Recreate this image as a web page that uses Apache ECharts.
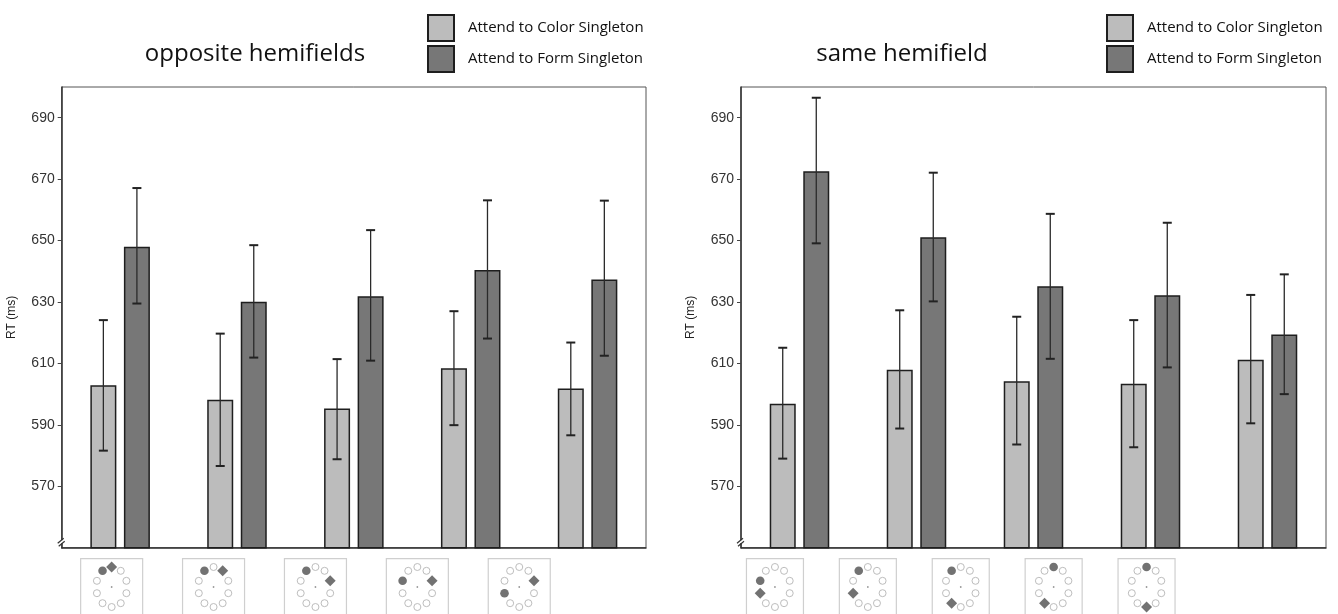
<!DOCTYPE html>
<html><head><meta charset="utf-8">
<script src="https://cdn.jsdelivr.net/npm/echarts@6/dist/echarts.min.js"></script>
<style>html,body{margin:0;padding:0;background:#fff}#c{width:1338px;height:614px}</style>
</head><body><div id="c"></div>
<script>
// ---------- data ----------
const categories = ['1', '2', '3', '4', '5'];
const legendNames = ['Attend to Color Singleton', 'Attend to Form Singleton'];
const panelTitles = ['opposite hemifields', 'same hemifield'];
const yAxisName = 'RT (ms)';
const yTicks = [570, 590, 610, 630, 650, 670, 690];
const yMin = 550;
const yMax = 700;

// opposite hemifields
const oppColorMean = [602.9, 598.2, 595.3, 608.4, 601.8];
const oppColorLow  = [581.6, 576.6, 578.8, 589.9, 586.6];
const oppColorHigh = [624.1, 619.7, 611.4, 627.0, 616.8];
const oppFormMean  = [648.0, 630.1, 631.9, 640.4, 637.3];
const oppFormLow   = [629.5, 611.9, 610.9, 618.1, 612.5];
const oppFormHigh  = [667.1, 648.5, 653.4, 663.1, 663.0];

// same hemifield
const sameColorMean = [596.9, 607.9, 604.2, 603.4, 611.2];
const sameColorLow  = [579.0, 588.8, 583.6, 582.7, 590.5];
const sameColorHigh = [615.1, 627.3, 625.2, 624.1, 632.3];
const sameFormMean  = [672.6, 651.1, 635.1, 632.2, 619.4];
const sameFormLow   = [649.1, 630.2, 611.5, 608.7, 600.0];
const sameFormHigh  = [696.5, 672.1, 658.7, 655.8, 639.0];

// display icons: 10 slots on a ring, slot 0 at top, clockwise
const ringSlots = 10;
const oppCircleSlot  = [9, 9, 9, 8, 7];
const oppDiamondSlot = [0, 1, 2, 2, 2];
const sameCircleSlot  = [8, 9, 9, 0, 0];
const sameDiamondSlot = [7, 7, 6, 6, 5];

// ---------- styles ----------
const LIGHT = '#bcbcbc', DARK = '#777777';
const BAR_W = 26, BAR_GAP = 0.29;
const BAR_OFF = (BAR_W + BAR_W * BAR_GAP) / 2;
const AXIS_FONT = 'Liberation Sans, Arial, sans-serif';
const TEXT_FONT = 'Open Sans, Noto Sans, sans-serif';

const grids = [
  {left: 61.7, top: 87, width: 584.3, height: 460.7},
  {left: 741, top: 87, width: 585, height: 460.7},
  {left: 60.7, top: 560, width: 509.5, height: 57},
  {left: 728.5, top: 560, width: 464.5, height: 57}
];

function errData(low, high, side) {
  return low.map((v, i) => [i, v, high[i], side]);
}
function iconData(circ, dia) {
  return circ.map((c, i) => [i, 0, c, dia[i]]);
}

function renderErr(params, api) {
  const c = api.value(0), lo = api.value(1), hi = api.value(2), side = api.value(3);
  const pLo = api.coord([c, lo]);
  const pHi = api.coord([c, hi]);
  const x = pLo[0] + side * BAR_OFF;
  const cap = 4.5;
  const st = {stroke: '#2a2a2a', lineWidth: 1.3};
  const cs = {stroke: '#222', lineWidth: 2};
  return {type: 'group', children: [
    {type: 'line', shape: {x1: x, y1: pHi[1], x2: x, y2: pLo[1]}, style: st},
    {type: 'line', shape: {x1: x - cap, y1: pHi[1], x2: x + cap, y2: pHi[1]}, style: cs},
    {type: 'line', shape: {x1: x - cap, y1: pLo[1], x2: x + cap, y2: pLo[1]}, style: cs}
  ]};
}

function makeIconRenderer(boxW) {
  return function (params, api) {
    const i = api.value(0);
    const p = api.coord([i, api.value(1)]);
    const cx = p[0], cy = p[1];
    const circ = api.value(2), dia = api.value(3);
    const RX = 15.5, RY = 20;
    const children = [
      {type: 'rect', shape: {x: cx - boxW / 2, y: cy - 28.3, width: boxW, height: 62},
       style: {fill: 'none', stroke: '#cfcfcf', lineWidth: 1.2}},
      {type: 'circle', shape: {cx: cx, cy: cy, r: 0.9}, style: {fill: '#999'}}
    ];
    for (let k = 0; k < ringSlots; k++) {
      const a = k * 2 * Math.PI / ringSlots;
      const x = cx + RX * Math.sin(a), y = cy - RY * Math.cos(a);
      if (k === circ) {
        children.push({type: 'circle', shape: {cx: x, cy: y, r: 4.3}, style: {fill: '#727272'}});
      } else if (k === dia) {
        const d = 5.5;
        children.push({type: 'polygon', shape: {points: [[x, y - d], [x + d, y], [x, y + d], [x - d, y]]},
          style: {fill: '#727272'}});
      } else {
        children.push({type: 'circle', shape: {cx: x, cy: y, r: 3.5},
          style: {fill: 'none', stroke: '#bdbdbd', lineWidth: 1}});
      }
    }
    return {type: 'group', children: children};
  };
}

const xAxes = [0, 1, 2, 3].map(g => ({
  type: 'category', gridIndex: g, data: categories,
  boundaryGap: true,
  axisLine: {show: g < 2, onZero: false, lineStyle: {color: '#333', width: 1.5}},
  axisTick: {show: false}, axisLabel: {show: false}, splitLine: {show: false}
}));
const yAxes = [0, 1].map(g => ({
  type: 'value', gridIndex: g, min: yMin, max: yMax,
  name: yAxisName, nameLocation: 'middle', nameGap: 44, nameRotate: 90,
  nameTextStyle: {fontFamily: AXIS_FONT, fontSize: 12, color: '#222'},
  axisLine: {show: true, lineStyle: {color: '#333', width: 1.5}},
  axisTick: {show: true, customValues: yTicks, length: 4, lineStyle: {color: '#444'}},
  axisLabel: {show: true, customValues: yTicks, fontFamily: AXIS_FONT, fontSize: 14, color: '#333', margin: 7},
  splitLine: {show: false}
})).concat([2, 3].map(g => ({
  type: 'value', gridIndex: g, min: -1, max: 1, show: false
})));

function barSeries(name, data, color, idx) {
  return {
    type: 'bar', name: name, data: data, xAxisIndex: idx, yAxisIndex: idx,
    barWidth: BAR_W, barGap: (BAR_GAP * 100) + '%',
    itemStyle: {color: color, borderColor: '#1e1e1e', borderWidth: 1.5},
    emphasis: {disabled: true}, animation: false
  };
}

function legendAt(left) {
  return {data: legendNames, left: left, top: 14, padding: 0, orient: 'vertical',
    itemWidth: 26, itemHeight: 26, itemGap: 3, icon: 'rect', selectedMode: false,
    textStyle: {fontFamily: TEXT_FONT, fontSize: 15, color: '#111', padding: [0, 0, 0, 9]}};
}
function titleAt(text, x) {
  return {text: text, left: x, top: 37, textAlign: 'center',
    textStyle: {fontFamily: TEXT_FONT, fontSize: 24, fontWeight: 'normal', color: '#111'}};
}

const option = {
  backgroundColor: '#fff',
  animation: false,
  title: [titleAt(panelTitles[0], 250), titleAt(panelTitles[1], 897)],
  legend: [legendAt(427), legendAt(1106)],
  grid: grids.map((g, i) => Object.assign({show: i < 2, borderColor: '#555', borderWidth: 1, containLabel: false}, g)),
  xAxis: xAxes,
  yAxis: yAxes,
  series: [
    barSeries(legendNames[0], oppColorMean, LIGHT, 0),
    barSeries(legendNames[1], oppFormMean, DARK, 0),
    barSeries(legendNames[0], sameColorMean, LIGHT, 1),
    barSeries(legendNames[1], sameFormMean, DARK, 1),
    {type: 'custom', name: 'errOpp', xAxisIndex: 0, yAxisIndex: 0, z: 5, renderItem: renderErr,
     data: errData(oppColorLow, oppColorHigh, -1).concat(errData(oppFormLow, oppFormHigh, 1)), silent: true},
    {type: 'custom', name: 'errSame', xAxisIndex: 1, yAxisIndex: 1, z: 5, renderItem: renderErr,
     data: errData(sameColorLow, sameColorHigh, -1).concat(errData(sameFormLow, sameFormHigh, 1)), silent: true},
    {type: 'custom', name: 'iconOpp', xAxisIndex: 2, yAxisIndex: 2, renderItem: makeIconRenderer(62),
     data: iconData(oppCircleSlot, oppDiamondSlot), silent: true, clip: false},
    {type: 'custom', name: 'iconSame', xAxisIndex: 3, yAxisIndex: 3, renderItem: makeIconRenderer(57),
     data: iconData(sameCircleSlot, sameDiamondSlot), silent: true, clip: false}
  ]
};

const chart = echarts.init(document.getElementById('c'), null, {renderer: 'canvas'});
chart.setOption(option);

// axis-break marks at bottom of each y axis
const breakMarks = [];
[0, 1].forEach(g => {
  const y = chart.convertToPixel({yAxisIndex: g}, 551.8);
  const x = grids[g].left;
  breakMarks.push(
    {type: 'rect', shape: {x: x - 3, y: y - 2, width: 6, height: 3}, style: {fill: '#fff'}, z: 20},
    {type: 'line', shape: {x1: x - 4, y1: y + 1, x2: x + 2, y2: y - 4}, style: {stroke: '#333', lineWidth: 1.2}, z: 21},
    {type: 'line', shape: {x1: x - 3, y1: y + 4, x2: x + 3, y2: y - 1}, style: {stroke: '#333', lineWidth: 1.2}, z: 21}
  );
});
chart.setOption({graphic: breakMarks});
</script>
</body></html>
